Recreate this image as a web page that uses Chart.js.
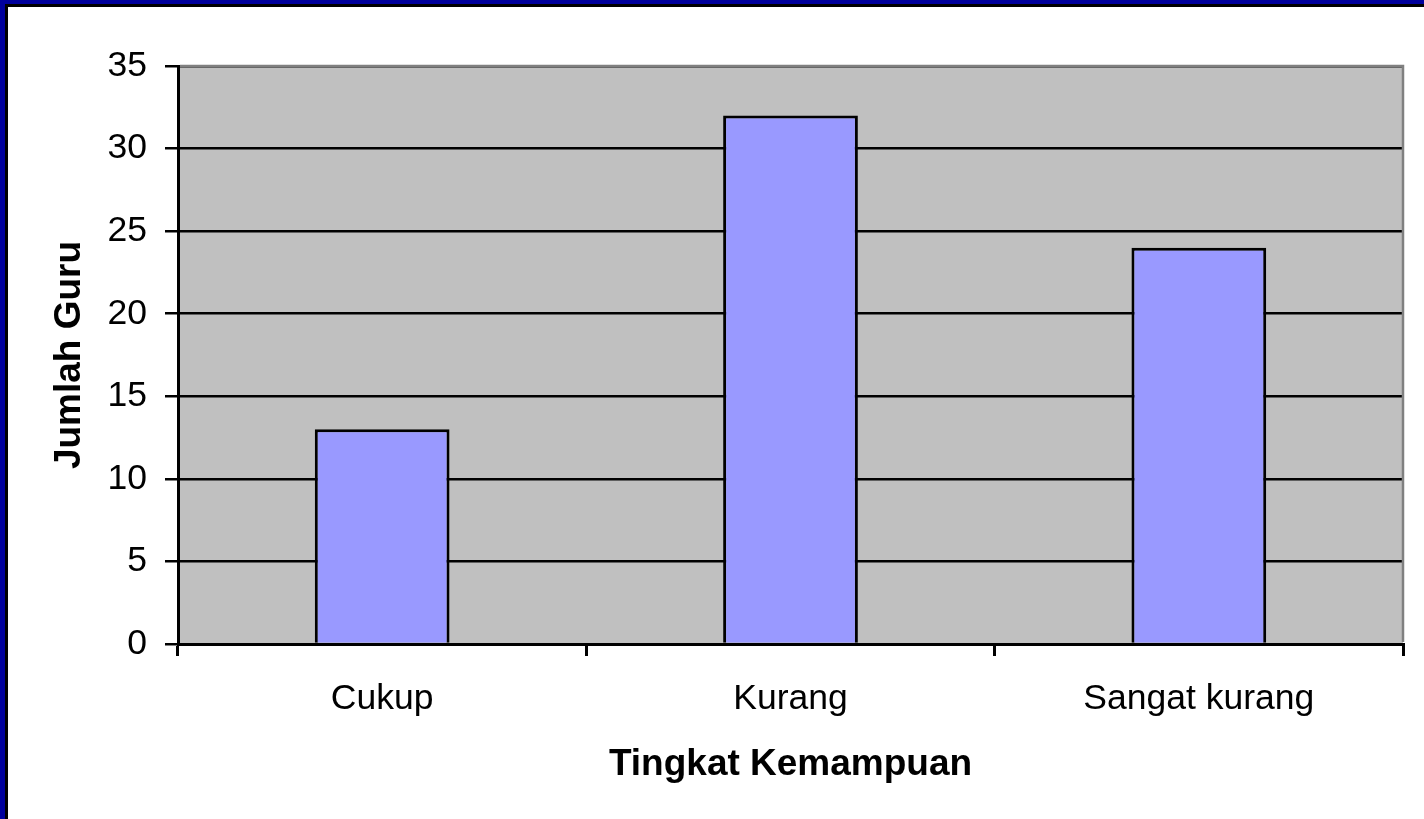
<!DOCTYPE html>
<html>
<head>
<meta charset="utf-8">
<script src="https://cdn.jsdelivr.net/npm/chart.js@4"></script>
<style>
  html, body { margin: 0; padding: 0; background: #fff; }
  #wrap { position: relative; width: 1424px; height: 819px; overflow: hidden; }
  #frame { position: absolute; left: 0; top: 0; width: 1424px; height: 819px; box-sizing: border-box;
           border-top: 4px solid #00009C; border-left: 5px solid #00009C; pointer-events: none; }
  #frame div { width: 100%; height: 100%; box-sizing: border-box;
               border-top: 3px solid #000; border-left: 3px solid #000; }
</style>
</head>
<body>
<div id="wrap">
  <canvas id="chart"></canvas>
  <div id="frame"><div></div></div>
</div>
<script>
const categories = ['Cukup', 'Kurang', 'Sangat kurang'];
const jumlahGuru = [13, 32, 24];
const yMin = 0, yMax = 35, yStep = 5;

// gray plot background + gray top/right edge
const plotFrame = {
    id: 'plotFrame',
    beforeDraw(chart) {
        const { ctx, chartArea: a } = chart;
        ctx.save();
        ctx.fillStyle = '#C0C0C0';
        ctx.fillRect(a.left, a.top, a.right - a.left, a.bottom - a.top);
        ctx.restore();
    },
    afterDraw(chart) {
        const { ctx, chartArea: a } = chart;
        ctx.save();
        ctx.strokeStyle = '#808080';
        ctx.lineWidth = 2.5;
        ctx.beginPath();
        ctx.moveTo(a.left + 2, a.top);
        ctx.lineTo(a.right, a.top);
        ctx.lineTo(a.right, a.bottom - 2);
        ctx.stroke();
        ctx.restore();
    }
};

Chart.defaults.font.family = '"Liberation Sans", Arial, sans-serif';
Chart.defaults.color = '#000';

const ctx = document.getElementById('chart').getContext('2d');
new Chart(ctx, {
    type: 'bar',
    data: {
        labels: categories,
        datasets: [{
            data: jumlahGuru,
            backgroundColor: '#9999FF',
            borderColor: '#000',
            borderWidth: 3,
            barPercentage: 0.33,
            categoryPercentage: 1
        }]
    },
    options: {
        responsive: true,
        maintainAspectRatio: false,
        animation: false,
        layout: { padding: { left: 8, top: 66, right: 21, bottom: 0 } },
        plugins: { legend: { display: false }, tooltip: { enabled: false } },
        scales: {
            x: {
                afterFit(scale) { scale.height = 175; },
                grid: { drawOnChartArea: false, color: '#000', lineWidth: 3, tickLength: 12 },
                border: { color: '#000', width: 3 },
                ticks: { font: { size: 35.5 }, padding: 22, color: '#000' },
                title: { display: true, text: 'Tingkat Kemampuan', font: { size: 37, weight: 'bold' },
                         color: '#000', padding: { top: 0, bottom: 32 } }
            },
            y: {
                min: yMin, max: yMax,
                afterFit(scale) { scale.width = 170; },
                grid: { color: '#000', lineWidth: 2.5, tickLength: 13 },
                border: { color: '#000', width: 3 },
                ticks: { stepSize: yStep, font: { size: 35.5 }, padding: 18, color: '#000' },
                title: { display: true, text: 'Jumlah Guru', font: { size: 37, weight: 'bold' },
                         color: '#000', padding: { top: 40, bottom: 0 } }
            }
        }
    },
    plugins: [plotFrame]
});
</script>
</body>
</html>
